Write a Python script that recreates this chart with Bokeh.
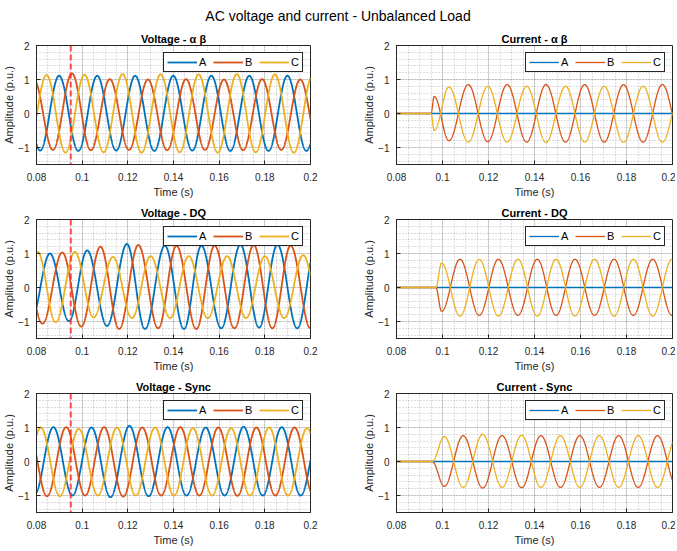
import numpy as np
from bokeh.plotting import figure
from bokeh.models import Range1d, FixedTicker, CustomJSTickFormatter, Span, Label
from bokeh.layouts import column, row
from bokeh.embed import file_html
from bokeh.resources import INLINE

# ---------------- data (extrema) ----------------
SUPTITLE = "AC voltage and current - Unbalanced Load"
TITLES = ["Voltage - α β", "Current - α β", "Voltage - DQ", "Current - DQ",
          "Voltage - Sync", "Current - Sync"]
PHASES = ["A", "B", "C"]
COLORS = ["#0072BD", "#D95319", "#EDB120"]
XTICKS = [0.08, 0.1, 0.12, 0.14, 0.16, 0.18, 0.2]
YTICKS = [-1, 0, 1, 2]
X_LIM = (0.08, 0.2)
Y_LIM = (-1.5, 2)
EVENT_T = 0.095

# Voltage alpha-beta
vab_a_t = [0.0733, 0.0816, 0.0899, 0.0983, 0.1066, 0.1149, 0.1232, 0.1316, 0.1399, 0.1482, 0.1566, 0.1649, 0.1732, 0.1816, 0.1899, 0.1982, 0.2066]
vab_a_v = [1.10, -1.09, 1.11, -1.10, 1.11, -1.09, 1.11, -1.10, 1.11, -1.09, 1.11, -1.10, 1.11, -1.10, 1.11, -1.10, 1.10]
vab_b_t = [0.0705, 0.0788, 0.0872, 0.0955, 0.1038, 0.1121, 0.1205, 0.1288, 0.1372, 0.1455, 0.1538, 0.1621, 0.1705, 0.1788, 0.1872, 0.1955, 0.2038]
vab_b_v = [-1.06, 1.00, -1.07, 1.18, -1.08, 1.01, -1.07, 1.00, -1.08, 1.01, -1.07, 1.00, -1.08, 1.01, -1.07, 1.00, -1.07]
vab_c_t = [0.0760, 0.0844, 0.0927, 0.1010, 0.1094, 0.1177, 0.1260, 0.1344, 0.1427, 0.1510, 0.1594, 0.1677, 0.1760, 0.1844, 0.1927, 0.2010]
vab_c_v = [-1.14, 1.13, -1.15, 1.14, -1.14, 1.16, -1.15, 1.15, -1.14, 1.15, -1.15, 1.16, -1.14, 1.15, -1.15, 1.14]

# Current alpha-beta
iab_a_t = [0.08, 0.2]
iab_a_v = [0.0, 0.0]
iab_b_t = [0.08, 0.095, 0.0964, 0.1028, 0.1112, 0.1197, 0.1281, 0.1366, 0.1450, 0.1535, 0.1618, 0.1703, 0.1787, 0.1872, 0.1956, 0.2041]
iab_b_v = [0.0, 0.0, 0.50, -0.80, 0.85, -0.83, 0.85, -0.84, 0.85, -0.84, 0.85, -0.84, 0.85, -0.84, 0.85, -0.84]
iab_c_t = [0.08, 0.095, 0.0964, 0.1028, 0.1112, 0.1197, 0.1281, 0.1366, 0.1450, 0.1535, 0.1618, 0.1703, 0.1787, 0.1872, 0.1956, 0.2041]
iab_c_v = [0.0, 0.0, -0.50, 0.78, -0.84, 0.80, -0.84, 0.80, -0.85, 0.80, -0.84, 0.80, -0.85, 0.80, -0.84, 0.80]

# Voltage DQ
vdq_a_t = [0.0775, 0.0859, 0.0942, 0.1022, 0.1109, 0.1196, 0.1275, 0.1362, 0.1446, 0.1522, 0.1609, 0.1693, 0.1775, 0.1855, 0.1942, 0.2025]
vdq_a_v = [-1.00, 1.00, -0.99, 1.09, -1.13, 1.28, -1.22, 1.23, -1.22, 1.23, -1.20, 1.26, -1.18, 1.26, -1.20, 1.25]
vdq_b_t = [0.0750, 0.0826, 0.0913, 0.0996, 0.1080, 0.1162, 0.1246, 0.1333, 0.1413, 0.1500, 0.1580, 0.1667, 0.1751, 0.1833, 0.1913, 0.2000]
vdq_b_v = [0.60, -1.06, 1.03, -1.15, 1.20, -1.22, 1.25, -1.20, 1.23, -1.22, 1.23, -1.20, 1.25, -1.20, 1.23, -1.20]
vdq_c_t = [0.0722, 0.0805, 0.0884, 0.0968, 0.1050, 0.1135, 0.1218, 0.1300, 0.1385, 0.1467, 0.1550, 0.1635, 0.1718, 0.1800, 0.1885, 0.1968, 0.2051]
vdq_c_v = [-1.00, 1.05, -1.02, 1.05, -0.88, 0.90, -0.90, 0.92, -0.90, 0.92, -0.90, 0.92, -0.90, 0.92, -0.90, 0.95, -0.90]

# Current DQ
idq_a_t = [0.08, 0.2]
idq_a_v = [0.0, 0.0]
idq_b_t = [0.08, 0.0971, 0.0996, 0.1076, 0.1160, 0.1243, 0.1328, 0.1412, 0.1494, 0.1576, 0.1661, 0.1746, 0.1830, 0.1914, 0.1998, 0.2082]
idq_b_v = [0.0, 0.0, -0.70, 0.83, -0.82, 0.83, -0.82, 0.83, -0.82, 0.83, -0.82, 0.83, -0.82, 0.83, -0.82, 0.83]
idq_c_t = [0.08, 0.0971, 0.0996, 0.1076, 0.1160, 0.1243, 0.1328, 0.1412, 0.1494, 0.1576, 0.1661, 0.1746, 0.1830, 0.1914, 0.1998, 0.2082]
idq_c_v = [0.0, 0.0, 0.72, -0.84, 0.83, -0.84, 0.83, -0.84, 0.83, -0.84, 0.83, -0.84, 0.83, -0.84, 0.83, -0.84]

# Voltage Sync
vsy_a_t = [0.0707, 0.0791, 0.0874, 0.0957, 0.1041, 0.1124, 0.1207, 0.1291, 0.1374, 0.1457, 0.1541, 0.1624, 0.1707, 0.1791, 0.1874, 0.1957, 0.2041]
vsy_a_v = [1.00, -0.98, 1.01, -1.00, 1.00, -1.05, 1.05, -1.02, 1.01, -1.00, 1.00, -1.00, 1.02, -1.00, 1.01, -1.00, 1.00]
vsy_b_t = [0.0763, 0.0846, 0.0930, 0.1013, 0.1096, 0.1180, 0.1263, 0.1346, 0.1430, 0.1513, 0.1596, 0.1680, 0.1763, 0.1846, 0.1930, 0.2013]
vsy_b_v = [1.00, -1.02, 1.01, -1.00, 1.01, -1.03, 1.00, -1.00, 1.01, -1.00, 1.00, -1.01, 1.00, -1.00, 1.00, -1.00]
vsy_c_t = [0.0735, 0.0819, 0.0902, 0.0985, 0.1069, 0.1152, 0.1235, 0.1319, 0.1402, 0.1485, 0.1569, 0.1652, 0.1735, 0.1819, 0.1902, 0.1985, 0.2069]
vsy_c_v = [-1.00, 1.00, -1.02, 0.96, -1.00, 1.00, -1.00, 1.00, -1.00, 0.98, -1.00, 0.98, -1.00, 1.00, -1.00, 0.98, -1.00]

# Current Sync
isy_a_t = [0.08, 0.2]
isy_a_v = [0.0, 0.0]
isy_b_t = [0.08, 0.0955, 0.1008, 0.1090, 0.1175, 0.1259, 0.1344, 0.1428, 0.1513, 0.1597, 0.1682, 0.1766, 0.1851, 0.1935, 0.2020]
isy_b_v = [0.0, 0.0, -0.73, 0.76, -0.78, 0.76, -0.77, 0.76, -0.76, 0.76, -0.76, 0.76, -0.76, 0.76, -0.76]
isy_c_t = [0.08, 0.0955, 0.1008, 0.1090, 0.1175, 0.1259, 0.1344, 0.1428, 0.1513, 0.1597, 0.1682, 0.1766, 0.1851, 0.1935, 0.2020]
isy_c_v = [0.0, 0.0, 0.73, -0.76, 0.80, -0.76, 0.77, -0.76, 0.76, -0.76, 0.76, -0.76, 0.76, -0.76, 0.76]

PANELS = [
    [(vab_a_t, vab_a_v), (vab_b_t, vab_b_v), (vab_c_t, vab_c_v)],
    [(iab_a_t, iab_a_v), (iab_b_t, iab_b_v), (iab_c_t, iab_c_v)],
    [(vdq_a_t, vdq_a_v), (vdq_b_t, vdq_b_v), (vdq_c_t, vdq_c_v)],
    [(idq_a_t, idq_a_v), (idq_b_t, idq_b_v), (idq_c_t, idq_c_v)],
    [(vsy_a_t, vsy_a_v), (vsy_b_t, vsy_b_v), (vsy_c_t, vsy_c_v)],
    [(isy_a_t, isy_a_v), (isy_b_t, isy_b_v), (isy_c_t, isy_c_v)],
]


def smooth_through(tk, vk, t):
    """Half-cosine join between successive read-off extrema."""
    tk = np.asarray(tk, float)
    vk = np.asarray(vk, float)
    i = np.clip(np.searchsorted(tk, t, side="right") - 1, 0, len(tk) - 2)
    t0, t1 = tk[i], tk[i + 1]
    s = np.clip((t - t0) / (t1 - t0), 0, 1)
    w = (1 - np.cos(np.pi * s)) / 2
    return vk[i] + (vk[i + 1] - vk[i]) * w


T = np.linspace(X_LIM[0], X_LIM[1], 3001)
FONT = "Liberation Sans"
TXT = "#262626"
XMINOR = [round(v, 4) for v in np.arange(0.08, 0.20001, 0.005)]
YMINOR = [round(v, 2) for v in np.arange(-1.4, 1.8001, 0.2)]

HEAD_H = 26
ROW_H = [174, 174, 174]
COL_W = [340, 335]


def make_fig(idx):
    left = idx % 2 == 0
    voltage = idx % 2 == 0
    r = idx // 2
    p = figure(width=COL_W[0] if left else COL_W[1], height=ROW_H[r],
               x_range=Range1d(*X_LIM), y_range=Range1d(*Y_LIM),
               output_backend="svg", toolbar_location=None,
               min_border_left=34 if left else 56,
               min_border_right=30 if left else 3,
               min_border_top=19, min_border_bottom=30,
               background_fill_color="white", border_fill_color="white")
    p.title.text = TITLES[idx]
    p.title.align = "center"
    p.title.text_font = FONT
    p.title.text_font_size = "11px"
    p.title.text_font_style = "bold"
    p.title.text_color = "#000000"
    p.title.standoff = 2
    p.outline_line_color = TXT
    p.outline_line_alpha = 1

    p.xaxis.ticker = FixedTicker(ticks=XTICKS, minor_ticks=XMINOR)
    p.yaxis.ticker = FixedTicker(ticks=YTICKS, minor_ticks=YMINOR)
    p.xaxis.formatter = CustomJSTickFormatter(code="return String(Math.round(tick*100)/100);")
    p.xaxis.axis_label = "Time (s)"
    p.yaxis.axis_label = "Amplitude (p.u.)"
    for ax in (p.xaxis, p.yaxis):
        ax.axis_line_color = TXT
        ax.major_tick_in = 4
        ax.major_tick_out = 0
        ax.major_tick_line_color = TXT
        ax.minor_tick_line_color = None
        ax.major_label_text_font = FONT
        ax.major_label_text_font_size = "10px"
        ax.major_label_text_color = TXT
        ax.axis_label_text_font = FONT
        ax.axis_label_text_font_size = "11px"
        ax.axis_label_text_font_style = "normal"
        ax.axis_label_text_color = TXT
    p.xaxis.major_label_standoff = 4
    p.xaxis.axis_label_standoff = 2
    p.yaxis.major_label_standoff = 3
    p.yaxis.axis_label_standoff = 0

    for g in (p.xgrid, p.ygrid):
        g.grid_line_color = TXT
        g.grid_line_alpha = 0.15
        g.minor_grid_line_color = TXT
        g.minor_grid_line_alpha = 0.3
        g.minor_grid_line_dash = "1 2"

    lw = 1.8 if voltage else 1.3
    for (tk, vk), name, col in zip(PANELS[idx], PHASES, COLORS):
        p.line(T, smooth_through(tk, vk, T), line_color=col, line_width=lw,
               legend_label=name)

    if voltage:
        p.add_layout(Span(location=EVENT_T, dimension="height",
                          line_color="#ff2a2a", line_alpha=0.85,
                          line_width=2, line_dash="6 3"))

    lg = p.legend[0]
    lg.location = "top_right"
    lg.orientation = "horizontal"
    lg.margin = 7
    lg.padding = 3
    lg.spacing = 6
    lg.glyph_width = 30
    lg.glyph_height = 12
    lg.label_height = 12
    lg.label_width = 8
    lg.label_standoff = 2
    lg.label_text_font = FONT
    lg.label_text_font_size = "11px"
    lg.label_text_color = "#000000"
    lg.border_line_color = TXT
    lg.border_line_width = 1
    lg.border_line_alpha = 1
    lg.background_fill_alpha = 1
    return p


figs = [make_fig(i) for i in range(6)]

# super-title strip (a bare figure holding one text label)
head = figure(width=sum(COL_W), height=HEAD_H, x_range=Range1d(0, 1), y_range=Range1d(0, 1),
              output_backend="svg", toolbar_location=None,
              x_axis_location=None, y_axis_location=None,
              min_border=0, outline_line_color=None,
              background_fill_color="white", border_fill_color="white")
head.grid.visible = False
head.add_layout(Label(x=0.5, y=0.42, text=SUPTITLE, text_align="center",
                      text_baseline="middle", text_font=FONT,
                      text_font_size="14px", text_color="#000000"))

layout = column(head,
                row(figs[0], figs[1]),
                row(figs[2], figs[3]),
                row(figs[4], figs[5]))

open("out.html", "w").write(file_html(layout, INLINE))
